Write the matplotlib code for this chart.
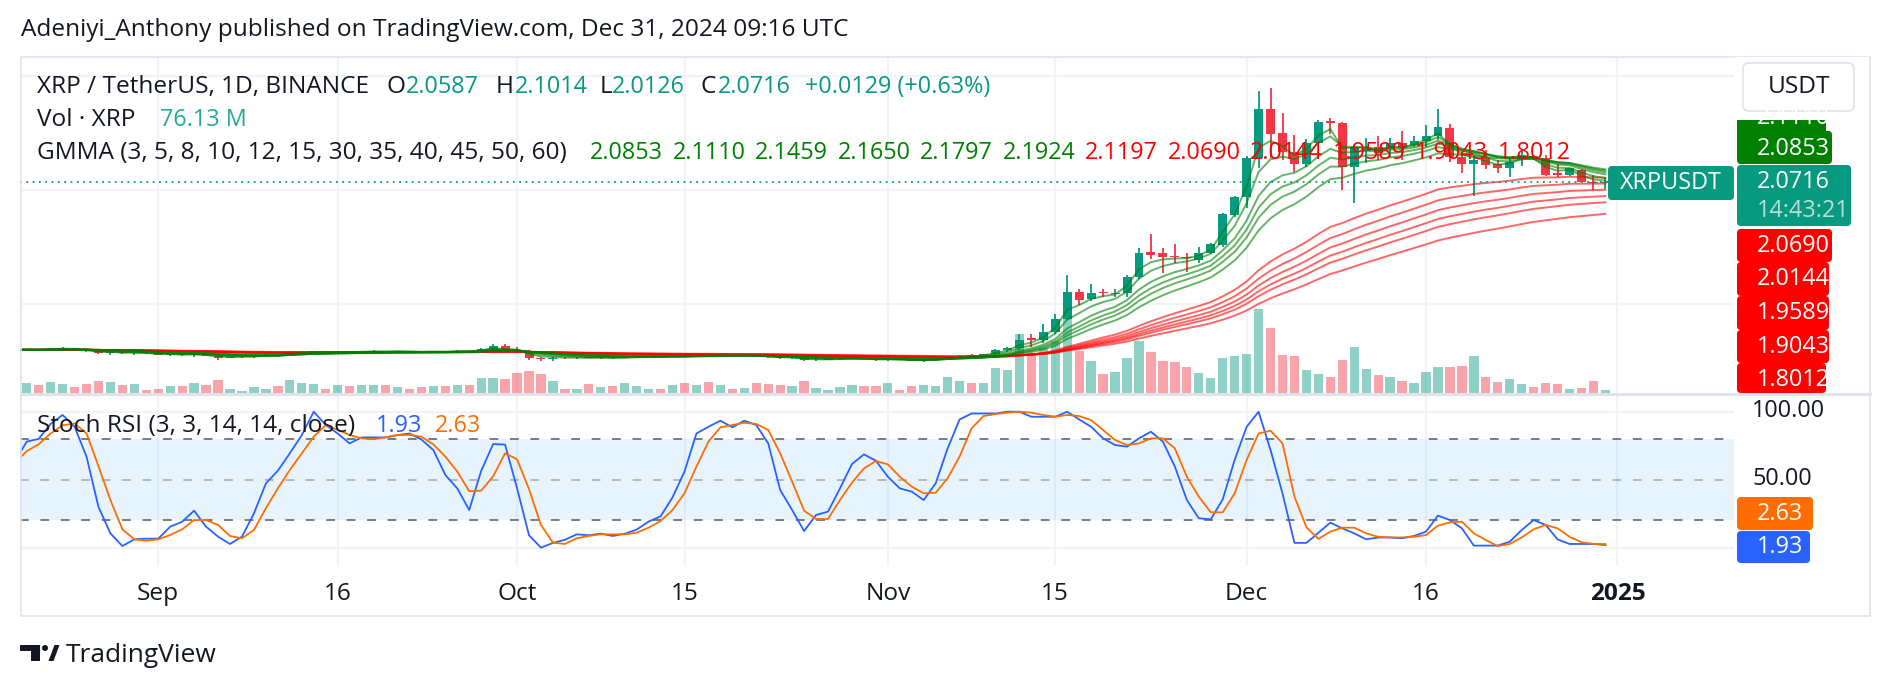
import matplotlib
matplotlib.use("Agg")
import matplotlib.pyplot as plt
import numpy as np
import pandas as pd
from matplotlib.patches import FancyBboxPatch, Rectangle, Polygon, Circle
from matplotlib.transforms import blended_transform_factory

plt.rcParams["font.family"] = ["Open Sans", "DejaVu Sans"]

W, H = 1888, 690
DARK = "#131722"
TEAL = "#089981"
UP, DOWN = "#089981", "#f23645"

# daily candles, Aug 20 .. Dec 31 2024 (XRP/USDT, Binance)
dates = pd.date_range("2024-08-20", "2024-12-31", freq="D")
opens = [.596, .600, .604, .597, .610, .616, .606, .586, .570, .578, .570, .574, .568, .558, .562, .553, .562, .550,
         .530, .535, .539, .546, .553, .550, .575, .582, .586, .579, .583, .577, .586, .589, .583, .590, .581, .578,
         .586, .580, .591, .587, .604, .634, .598, .594, .526, .522, .532, .526, .532, .528, .533, .528, .535, .540,
         .543, .538, .547, .542, .553, .548, .552, .549, .551, .545, .538, .528, .531, .508, .513, .516, .522, .527,
         .520, .512, .518, .512, .505, .508, .517, .535, .548, .545, .562, .595, .612, .700, .685, .757, .874, 1.108,
         1.041, 1.108, 1.090, 1.100, 1.240, 1.459, 1.450, 1.420, 1.415, 1.386, 1.450, 1.518, 1.781, 1.942, 2.278,
         2.708, 2.497, 2.336, 2.228, 2.409, 2.605, 2.590, 2.199, 2.340, 2.374, 2.360, 2.409, 2.395, 2.430, 2.474,
         2.547, 2.292, 2.228, 2.278, 2.228, 2.190, 2.269, 2.300, 2.278, 2.152, 2.132, 2.175, 2.073, 2.0587]
highs = [.606, .608, .607, .615, .625, .618, .609, .590, .582, .585, .578, .577, .570, .566, .570, .570, .565, .558,
         .540, .542, .552, .560, .558, .585, .590, .590, .588, .590, .592, .590, .595, .593, .592, .591, .590, .590,
         .592, .595, .598, .612, .651, .650, .628, .600, .535, .540, .536, .535, .538, .536, .535, .540, .545, .546,
         .545, .550, .552, .558, .556, .556, .556, .556, .554, .548, .542, .535, .534, .518, .520, .528, .532, .530,
         .528, .525, .522, .515, .512, .520, .545, .555, .560, .565, .605, .625, .743, .737, .830, .912, 1.254, 1.137,
         1.175, 1.137, 1.130, 1.254, 1.488, 1.614, 1.488, 1.526, 1.450, 1.503, 1.532, 1.800, 1.950, 2.300, 2.863,
         2.892, 2.673, 2.482, 2.444, 2.610, 2.630, 2.600, 2.395, 2.453, 2.474, 2.453, 2.520, 2.470, 2.570, 2.708,
         2.580, 2.336, 2.307, 2.351, 2.260, 2.278, 2.351, 2.307, 2.307, 2.228, 2.195, 2.181, 2.132, 2.1014]
lows = [.590, .592, .590, .595, .605, .600, .582, .560, .555, .565, .555, .565, .552, .550, .550, .540, .545, .510,
        .525, .528, .532, .540, .535, .548, .570, .576, .574, .570, .572, .570, .580, .578, .580, .572, .575, .574,
        .575, .578, .582, .582, .600, .585, .570, .515, .505, .505, .522, .522, .525, .522, .520, .525, .530, .535,
        .532, .535, .536, .540, .540, .545, .544, .545, .540, .532, .520, .520, .498, .503, .510, .512, .518, .515,
        .505, .505, .508, .498, .496, .503, .512, .530, .540, .540, .555, .585, .600, .626, .660, .740, .860, .991,
        1.030, 1.064, 1.060, 1.064, 1.220, 1.392, 1.269, 1.357, 1.284, 1.357, 1.436, 1.500, 1.766, 1.839, 2.190,
        2.278, 2.263, 2.161, 2.200, 2.400, 2.490, 2.000, 1.889, 2.234, 2.263, 2.290, 2.263, 2.374, 2.374, 2.440,
        2.249, 2.152, 1.947, 2.181, 2.152, 2.117, 2.211, 2.263, 2.123, 2.111, 2.120, 2.067, 2.000, 2.0126]
closes = [.600, .604, .597, .610, .616, .606, .586, .570, .578, .570, .574, .568, .558, .562, .553, .562, .550, .530,
          .535, .539, .546, .553, .550, .575, .582, .586, .579, .583, .577, .586, .589, .583, .590, .581, .578, .586,
          .580, .591, .587, .604, .634, .598, .594, .526, .522, .532, .526, .532, .528, .533, .528, .535, .540, .543,
          .538, .547, .542, .553, .548, .552, .549, .551, .545, .538, .528, .531, .508, .513, .516, .522, .527, .520,
          .512, .518, .512, .505, .508, .517, .535, .548, .545, .562, .595, .612, .690, .685, .757, .874, 1.108, 1.035,
          1.099, 1.095, 1.100, 1.240, 1.450, 1.430, 1.415, 1.410, 1.405, 1.450, 1.526, 1.789, 1.942, 2.278, 2.708,
          2.491, 2.336, 2.228, 2.409, 2.599, 2.590, 2.199, 2.374, 2.370, 2.322, 2.409, 2.365, 2.430, 2.474, 2.556,
          2.292, 2.228, 2.263, 2.219, 2.190, 2.249, 2.307, 2.278, 2.132, 2.132, 2.190, 2.073, 2.0587, 2.0716]
# volume, millions of XRP
volumes = [280, 300, 230, 330, 270, 170, 270, 350, 330, 230, 270, 90, 130, 200, 200, 290, 230, 380, 110, 70, 170,
           130, 200, 380, 290, 270, 130, 250, 210, 230, 230, 230, 170, 130, 170, 200, 200, 230, 230, 440, 440, 410,
           600, 650, 570, 350, 110, 110, 260, 170, 200, 290, 200, 110, 110, 230, 290, 230, 320, 230, 110, 140, 290,
           260, 230, 200, 350, 140, 80, 170, 230, 200, 220, 300, 90, 220, 250, 220, 490, 370, 290, 290, 740, 700,
           1770, 1200, 1350, 1550, 2220, 1270, 960, 560, 630, 1060, 1570, 1230, 960, 920, 790, 590, 455, 1060, 1110,
           1160, 2510, 1950, 1140, 1110, 700, 570, 490, 1000, 1390, 720, 550, 490, 370, 310, 640, 770, 790, 820,
           1120, 490, 340, 420, 280, 190, 310, 280, 130, 160, 370, 76.13]
stoch_k = [63, 78, 80, 91, 97.6, 89, 67, 30, 10.5, 1.2, 6.1, 6.6, 6.6, 15.4, 19.1, 27.2, 15.4, 8.1, 2.7, 8.1, 25.2,
           47.3, 56.6, 69.4, 82.8, 100, 90.2, 84, 76.7, 81.1, 81.1, 81.1, 82.8, 84, 79.6, 71.8, 53.5, 43.6, 27.7,
           56.5, 76.2, 75.8, 43.7, 9.1, 0, 3.5, 5.8, 9.8, 9.1, 10.3, 8.6, 10.2, 13.3, 19.2, 23, 37, 56, 84, 88.9,
           93.4, 88.5, 93.4, 90.2, 76.7, 42.4, 27.7, 12.2, 24, 26.5, 43.6, 61.5, 68.6, 64, 52.2, 43.6, 41.2, 35,
           47.3, 73, 94.3, 98.7, 98.7, 98.7, 100, 100, 96.3, 96.3, 96.3, 100, 94.3, 88.9, 80.4, 75.5, 74.3, 80.4,
           85.3, 78, 59.6, 35.1, 21.6, 20.8, 35.5, 64.5, 88.9, 100, 71.8, 39.9, 3.5, 3.5, 11, 18.4, 14.2, 10.5, 6.1,
           7.5, 7.5, 6.9, 8.6, 11.8, 23.6, 20.3, 14.2, 1.5, 1.5, 1.5, 4.4, 13, 20.3, 16.7, 6.1, 2.7, 2.7, 2.7, 1.93]
stoch_d = [62, 71, 76, 84, 90, 91.4, 84, 60, 35, 13.5, 6.1, 5.1, 6.1, 9.3, 13.5, 20.3, 20.3, 16.7, 8.6, 6.9, 13,
           29, 43.6, 57.1, 69.4, 81.6, 90.2, 86.6, 82.9, 80.4, 79.7, 81.1, 82.9, 82.9, 81.6, 76, 67, 56, 41.5,
           41.9, 52.5, 69.4, 65, 43, 16.7, 3.7, 2.7, 6.9, 8.6, 9.8, 9.8, 9.8, 11, 14.7, 19.6, 27.7, 40, 59.6, 78,
           88.5, 90.2, 91.9, 91, 86.6, 69.4, 48.6, 27.2, 21.1, 21.1, 35, 47.8, 58.3, 63.7, 61.3, 52.2, 44.9, 40,
           40.4, 51, 67, 87.7, 96.8, 98.3, 99.3, 100, 99.3, 97.6, 96.3, 97.6, 96.8, 93.8, 86.5, 79.2, 75.5, 76.7,
           80.4, 80.4, 73, 52.2, 37.5, 26, 26, 39.9, 64.5, 84, 86, 76.7, 37.5, 15, 6.4, 11.8, 14.7, 14.7, 10.5, 8,
           7.5, 7.5, 8, 9.3, 16.2, 18.6, 19.1, 10.5, 5.6, 1.2, 2.7, 7.5, 13.5, 16.7, 14.2, 8, 4, 2.7, 2.63]

gmma_fast = [3, 5, 8, 10, 12, 15]
gmma_slow = [30, 35, 40, 45, 50, 60]
gmma_vals = ["2.0853", "2.1110", "2.1459", "2.1650", "2.1797", "2.1924",
             "2.1197", "2.0690", "2.0144", "1.9589", "1.9043", "1.8012"]
tick_days = ["2024-09-01", "2024-09-16", "2024-10-01", "2024-10-15", "2024-11-01",
             "2024-11-15", "2024-12-01", "2024-12-16", "2025-01-01"]
tick_labels = ["Sep", "16", "Oct", "15", "Nov", "15", "Dec", "16", "2025"]


def ema(vals, n):
    a = 2.0 / (n + 1)
    out, e = [], vals[0]
    for v in vals:
        e = a * v + (1 - a) * e
        out.append(e)
    return np.array(out)


x = np.asarray((dates - pd.Timestamp("2024-09-01")).days, float)
o, h, l, c = map(np.asarray, (opens, highs, lows, closes))
up = c >= o

fig = plt.figure(figsize=(W / 100, H / 100), dpi=100)
fig.patch.set_facecolor("white")


def rect(left, top, right, bottom):
    return [left / W, 1 - bottom / H, (right - left) / W, (bottom - top) / H]


XMIN, XMAX = -11.56, 131.75
PMIN, PMAX = 0.222, 3.165
VMAX = 10080
ax_vol = fig.add_axes(rect(20, 57, 1734, 393), zorder=1)
ax = fig.add_axes(rect(20, 57, 1734, 393), zorder=2, sharex=ax_vol)
ax_st = fig.add_axes(rect(20, 395, 1734, 566), zorder=1, sharex=ax_vol)
for a in (ax_vol, ax, ax_st):
    a.set_axis_off()
ax_vol.set_xlim(XMIN, XMAX)
ax.set_ylim(PMIN, PMAX)
ax_vol.set_ylim(0, VMAX)
ax_st.set_ylim(-13.5, 112.3)

# grid
tx = [(pd.Timestamp(d) - pd.Timestamp("2024-09-01")).days for d in tick_days]
for t in tx:
    ax_vol.axvline(t, color="#f0f3fa", lw=1.5, zorder=0)
    ax_st.axvline(t, color="#f0f3fa", lw=1.5, zorder=0)
for p in (1.0, 2.0, 3.0):
    ax_vol.axhline((p - PMIN) / (PMAX - PMIN) * VMAX, color="#f0f3fa", lw=1.5, zorder=0)

# volume
ax_vol.bar(x, volumes, width=0.78, color=np.where(up, UP, DOWN), alpha=0.45, lw=0, zorder=2)

# candles
cols = np.where(up, UP, DOWN)
ax.vlines(x, l, h, colors=cols, lw=1.3, zorder=2)
body = np.maximum(np.abs(c - o), 0.006)
ax.bar(x, body, bottom=np.minimum(o, c), width=0.75, color=cols, lw=0, zorder=2)

# GMMA
for n in gmma_slow:
    ax.plot(x, ema(c, n), color="#ff0000", alpha=0.6, lw=1.4, zorder=3)
for n in gmma_fast:
    ax.plot(x, ema(c, n), color="#008000", alpha=0.6, lw=1.4, zorder=3)
ax.axhline(closes[-1], color=TEAL, lw=1.3, ls=(0, (1, 2.5)), zorder=4)

# Stoch RSI
ax_st.axhspan(20, 80, color="#2196f3", alpha=0.1, lw=0, zorder=0)
for v in (0, 100):
    ax_st.axhline(v, color="#f0f3fa", lw=1.5, zorder=0)
ax_st.axhline(80, color="#787b86", lw=1.4, dashes=(4.5, 6), zorder=1)
ax_st.axhline(20, color="#787b86", lw=1.4, dashes=(4.5, 6), zorder=1)
ax_st.axhline(50, color="#787b86", alpha=0.5, lw=1.4, dashes=(4.5, 6), zorder=1)
ax_st.plot(x, stoch_k, color="#2962ff", lw=1.3, zorder=3)
ax_st.plot(x, stoch_d, color="#ff6d00", lw=1.3, zorder=3)

# overlay in pixel coordinates
ov = fig.add_axes([0, 0, 1, 1], zorder=10)
ov.set_xlim(0, W)
ov.set_ylim(H, 0)
ov.set_axis_off()

ov.add_patch(Rectangle((20.5, 56.5), 1849.5, 559.5, fill=False, ec="#e0e3eb", lw=1.2))
ov.plot([20.5, 1870], [394, 394], color="#e0e3eb", lw=2.2)

FS = 17.6   # words
FN = 16.8   # numbers


def txt(x0, y0, s, col=DARK, **kw):
    kw.setdefault("fontsize", FS)
    kw.setdefault("va", "center")
    return ov.text(x0, y0, s, color=col, **kw)


txt(21, 30, "Adeniyi_Anthony published on TradingView.com, Dec 31, 2024 09:16 UTC")

# legend rows, pieces at the x offsets they have in the picture
for s, col, x0 in [("XRP / TetherUS, 1D, BINANCE", DARK, 37), ("O", DARK, 387), ("2.0587", TEAL, 406),
                   ("H", DARK, 496), ("2.1014", TEAL, 515), ("L", DARK, 600), ("2.0126", TEAL, 612),
                   ("C", DARK, 700), ("2.0716", TEAL, 718), ("+0.0129 (+0.63%)", TEAL, 805)]:
    txt(x0, 87, s, col, fontsize=FN if col == TEAL else FS)
txt(37, 120, "Vol · XRP")
txt(160, 120, "76.13 M", "#22ab94", fontsize=FN)
txt(37, 153, "GMMA (3, 5, 8, 10, 12, 15, 30, 35, 40, 45, 50, 60)")
for i, v in enumerate(gmma_vals):
    txt(590 + 82.5 * i, 153, v, "#008000" if i < 6 else "#ff0000", fontsize=FN)
txt(37, 426, "Stoch RSI (3, 3, 14, 14, close)")
txt(376, 426, "1.93", "#2962ff", fontsize=FN)
txt(435, 426, "2.63", "#ff6d00", fontsize=FN)

# time axis
bt = blended_transform_factory(ax_st.transData, ov.transData)
for t, s in zip(tx, tick_labels):
    ov.text(t, 594, s, transform=bt, ha="center", va="center", fontsize=FS, color=DARK,
            fontweight="bold" if s == "2025" else "normal")


def tag(x0, y0, x1, y1, fc, s, ty):
    ov.add_patch(FancyBboxPatch((x0, y0), x1 - x0, y1 - y0, boxstyle="round,pad=0,rounding_size=4",
                                fc=fc, ec="none"))
    txt(1757, ty, s, "white", fontsize=FN)


# price scale labels
tag(1737, 100, 1826, 136, "#008000", "2.1110", 118)
ov.add_patch(Rectangle((1735, 57), 134, 63, fc="white", ec="none"))
ov.add_patch(FancyBboxPatch((1743, 63), 111, 48, boxstyle="round,pad=0,rounding_size=6",
                            fc="white", ec="#e0e3eb", lw=1.2))
txt(1798.5, 87, "USDT", ha="center")
tag(1737, 131, 1832, 164, "#008000", "2.0853", 149)
tag(1737, 165, 1851, 226, TEAL, "2.0716", 182)
txt(1757, 211, "14:43:21", "white", alpha=0.7, fontsize=FN)
red_tags = [(229, 262, 1832, "2.0690", 245.6), (262, 296, 1829, "2.0144", 279.3),
            (296, 330, 1829, "1.9589", 313), (330, 363, 1829, "1.9043", 346.8),
            (363, 393, 1826, "1.8012", 380.5)]
for y0, y1, x1, s, ty in red_tags:
    tag(1737, y0, x1, y1, "#ff0000", s, ty)

ov.add_patch(FancyBboxPatch((1608, 166), 126, 34, boxstyle="round,pad=0,rounding_size=4",
                            fc=TEAL, ec="none"))
txt(1671, 183, "XRPUSDT", "white", ha="center", fontsize=FN)

txt(1752, 411, "100.00", fontsize=FN)
txt(1752, 479, "50.00", fontsize=FN)
tag(1737, 497, 1813, 530, "#ff6d00", "2.63", 513.5)
tag(1737, 531, 1810, 563, "#2962ff", "1.93", 547)

# TradingView logo
ov.add_patch(Polygon([(20, 645), (39.5, 645), (39.5, 661), (30.5, 661), (30.5, 650.5), (20, 650.5)],
                     closed=True, fc=DARK, ec="none"))
ov.add_patch(Circle((45, 648), 3.0, fc=DARK, ec="none"))
ov.add_patch(Polygon([(48.5, 661), (54.5, 645), (59.5, 645), (53.5, 661)], closed=True, fc=DARK, ec="none"))
txt(66, 656, "TradingView", fontsize=19)

fig.savefig("out.png", dpi=100, facecolor="white")
